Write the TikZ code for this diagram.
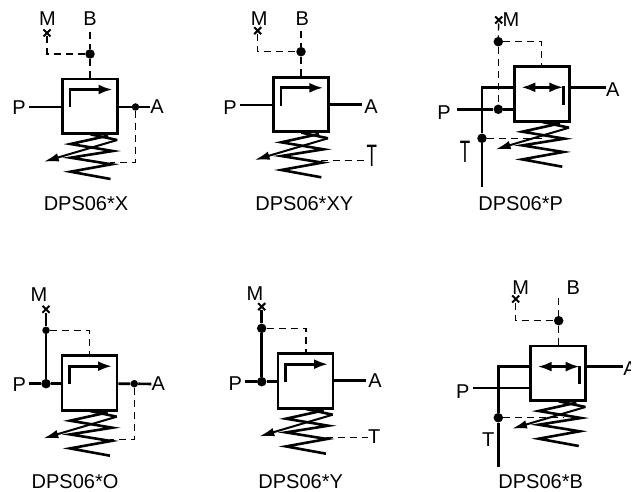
\documentclass[tikz,border=0pt]{standalone}
\usepackage{fontspec}
\setmainfont{Liberation Sans}
\usetikzlibrary{arrows.meta}
\usetikzlibrary{shapes.misc}

\tikzset{
  wire/.style={line width=2.6pt},
  pilot/.style={line width=1.4pt, dash pattern=on 7pt off 5pt},
  corpo/.style={draw, line width=2.8pt, minimum width=55pt, minimum height=54.5pt, inner sep=0pt},
  dotS/.style={circle, fill=black, inner sep=0pt, minimum size=7.5pt},
  dotB/.style={circle, fill=black, inner sep=0pt, minimum size=9.5pt},
  crocetta/.style={cross out, draw, line width=2pt, inner sep=0pt, minimum size=5pt},
  lab/.style={inner sep=0pt, font=\fontsize{20}{21}\selectfont},
  tip/.style={-{Latex[length=14pt,width=10pt]}},
  tipS/.style={-{Latex[length=15pt,width=8.5pt]}}
}

\begin{document}
\begin{tikzpicture}[x=1pt,y=-1pt]
\useasboundingbox (0,0) rectangle (640,492);

\def\corpo(#1,#2,#3){ % (x, y) dell'angolo, nome
\node[corpo] (box#3) at ({#1+27.5},{#2+27.25}) {};
\begin{scope}[shift={(#1,#2)}]
%Molla e freccia di regolazione
\draw[line width=2.6pt, line join=miter] (45.7,56.7) -- (8,65) -- (50.3,72) -- (8,78.7) -- (49,85.3) -- (8,92.7) -- (48,100);
\draw[line width=2.6pt] (28,55.3) -- (54.7,61);
\draw[line width=2pt, tipS] (54.7,61) -- (-18.7,82.7);
\coordinate (tap#3) at (47.5,83.5);
\end{scope}}

%Freccia singola nel corpo
\def\singola(#1,#2){
\begin{scope}[shift={(#1,#2)}]
\draw[line width=2.6pt, tip] (7.5,28.5) -- (7.5,10.5) -- (50,10.5);
\end{scope}}

%Freccia doppia nel corpo
\def\doppia(#1,#2){
\begin{scope}[shift={(#1,#2)}]
\draw[line width=2.6pt, tip] (28,20.6) -- (7,20.6);
\draw[line width=2.6pt, tip] (28,20.6) -- (49,20.6);
\draw[line width=2.6pt] (49,19.5) -- (49,38.3);
\end{scope}}

%DPS06*X
\corpo(62.5,79,X)
\singola(62.5,79)
\node[lab] (labMX) at (47.5,19) {M};
\node[lab] (labBX) at (90,19) {B};
\node[lab] (labPX) at (19,108) {P};
\node[lab] (labAX) at (157,107) {A};
\node[lab] (capX) at (86,204) {DPS06*X};
\node[crocetta] (crX) at (47,33) {};
\node[dotB] (jBX) at (90,54) {};
\node[dotS] (jAX) at (135.5,107) {};
\coordinate (topX) at (90,32);
\draw[pilot] (crX) |- (jBX);
\draw[pilot] (topX) -- (jBX);
\draw[pilot] (jBX) -- (jBX |- boxX.north);
\draw[wire] (labPX.east) ++(3,-1) -- (boxX.west |- jAX);
\draw[wire] (boxX.east |- jAX) -- (jAX) -- (labAX.west);
\draw[pilot] (jAX) |- (tapX);

%DPS06*XY
\corpo(273.3,77.3,XY)
\singola(273.3,77.3)
\node[lab] (labMXY) at (259.3,19) {M};
\node[lab] (labBXY) at (302.3,19) {B};
\node[lab] (labPXY) at (230,108) {P};
\node[lab] (labAXY) at (371,106.7) {A};
\node[lab] (labTXY) at (371.7,156) {\scalebox{.85}[1.55]{T}};
\node[lab] (capXY) at (304.3,204) {DPS06*XY};
\node[crocetta] (crXY) at (257.7,30.7) {};
\node[dotB] (jBXY) at (301,51.7) {};
\coordinate (topXY) at (301,30.7);
\draw[pilot] (crXY) |- (jBXY);
\draw[pilot] (topXY) -- (jBXY);
\draw[pilot] (jBXY) -- (jBXY |- boxXY.north);
\draw[wire] (240,105) -- (boxXY.west |- 0,105);
\draw[wire] (boxXY.east |- 0,104.5) -- (361.7,104.5);
\draw[pilot] (tapXY) -- (labTXY.west |- tapXY);

%DPS06*P
\corpo(514.3,66.7,P)
\doppia(514.3,66.7)
\node[lab] (labMP) at (511,20) {M};
\node[lab] (labPP) at (444,113) {P};
\node[lab] (labAP) at (612.7,90) {A};
\node[lab] (labTP) at (465,152) {\scalebox{.85}[1.55]{T}};
\node[lab] (capP) at (520.7,204) {DPS06*P};
\node[crocetta] (crP) at (498.7,20) {};
\node[dotB] (jMP) at (498.3,41.7) {};
\node[dotB] (jPP) at (498.3,109.3) {};
\node[dotB] (jTP) at (482,138.3) {};
\coordinate (endP) at (482,187.3);
\coordinate (tapP) at (546.7,138.3);
\draw[pilot] (crP) -- (jMP);
\draw[pilot] (jMP) -- (jPP);
\draw[pilot] (jMP) -| (boxP.north -| 541.7,0);
\draw[wire] (456.7,109.3) -- (jPP) -- (boxP.west |- jPP);
\draw[wire] (boxP.west |- 0,87.3) -- (482,87.3) -- (jTP) -- (endP);
\draw[wire] (boxP.east |- 0,87.3) -- (605.7,87.3);
\draw[pilot] (jTP) -- (tapP);

%DPS06*O
\corpo(62,355.7,O)
\singola(62,355.7)
\node[lab] (labMO) at (39,295) {M};
\node[lab] (labPO) at (19.3,385) {P};
\node[lab] (labAO) at (158.3,384) {A};
\node[lab] (capO) at (75,481.7) {DPS06*O};
\node[crocetta] (crO) at (46,309.3) {};
\node[dotS] (jMO) at (46,330.3) {};
\node[dotB] (jPO) at (46,383.7) {};
\node[dotS] (jAO) at (134.3,383.7) {};
\draw[wire] (crO) -- (jMO) -- (jPO);
\draw[wire] (29,383.7) -- (jPO) -- (boxO.west |- jPO);
\draw[wire] (boxO.east |- jAO) -- (jAO) -- (labAO.west);
\draw[pilot] (jMO) -| (boxO.north -| 89.3,0);
\draw[pilot] (jAO) |- (tapO);

%DPS06*Y
\corpo(278,353.7,Y)
\singola(278,353.7)
\node[lab] (labMY) at (255,293.3) {M};
\node[lab] (labPY) at (235.3,384) {P};
\node[lab] (labAY) at (375,381) {A};
\node[lab] (labTY) at (374.3,436.3) {T};
\node[lab] (capY) at (300.7,481.7) {DPS06*Y};
\node[crocetta] (crY) at (261.7,306.7) {};
\node[dotB] (jMY) at (261.7,328.3) {};
\node[dotB] (jPY) at (261.7,381.7) {};
\draw[wire] (crY) -- (jMY) -- (jPY);
\draw[wire] (245,381.7) -- (jPY) -- (boxY.west |- jPY);
\draw[wire] (boxY.east |- 0,380.3) -- (365.7,380.3);
\draw[pilot] (jMY) -| (boxY.north -| 306,0);
\draw[pilot] (tapY) -- (labTY.west |- tapY);

%DPS06*B
\corpo(530.7,346,B)
\doppia(530.7,346)
\node[lab] (labMB) at (520.7,287.3) {M};
\node[lab] (labBB) at (573.3,287.3) {B};
\node[lab] (labPB) at (462.7,391.7) {P};
\node[lab] (labTB) at (488.3,440) {T};
\node[lab] (capB) at (540.7,481.7) {DPS06*B};
\begin{scope}
\clip (600,340) rectangle (630.5,390);
\node[lab] (labAB) at (630,368.3) {A};
\end{scope}
\node[crocetta] (crB) at (515.7,299) {};
\node[dotB] (jBB) at (558.7,320.7) {};
\node[dotB] (jTB) at (498.3,417.7) {};
\coordinate (topB) at (558.7,298.3);
\coordinate (endB) at (498.3,466.7);
\coordinate (tapB) at (563.3,417.7);
\draw[pilot] (crB) |- (jBB);
\draw[pilot] (topB) -- (jBB);
\draw[pilot] (jBB) -- (jBB |- boxB.north);
\draw[wire] (473.3,388) -- (boxB.west |- 0,388);
\draw[wire] (boxB.west |- 0,366.7) -- (498.3,366.7) -- (jTB) -- (endB);
\draw[wire] (boxB.east |- 0,366.7) -- (623,366.7);
\draw[pilot] (jTB) -- (tapB);

\end{tikzpicture}
\end{document}
